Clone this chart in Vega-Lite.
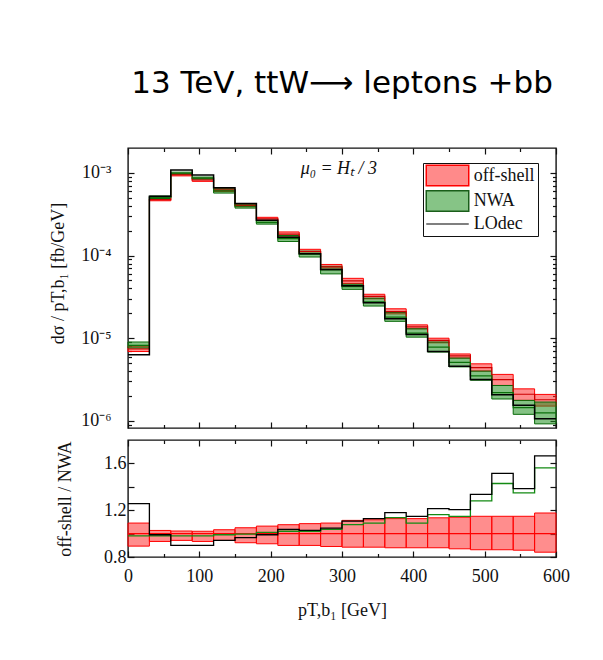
{
  "$schema": "https://vega.github.io/schema/vega-lite/v6.json",
  "background": "white",
  "padding": {"left": 49, "top": 67, "right": 10, "bottom": 10},
  "spacing": 7,
  "config": {
    "view": {"stroke": "#111", "strokeWidth": 1.4},
    "axis": {"domain": false, "grid": false, "labelFont": "Liberation Serif", "titleFont": "Liberation Serif", "labelFontSize": 18, "titleFontSize": 18, "labelColor": "#111", "titleColor": "#111", "tickColor": "#111", "tickWidth": 1.2, "titleFontWeight": "normal", "labelFlush": false, "labelOverlap": false},
    "font": "Liberation Serif"
  },
  "datasets": {
    "main": [
      {"x0": 0, "x1": 30, "os_lo": 6.9e-6, "os_hi": 8.0e-6, "os_c": 7.4e-6, "nw_lo": 7.6e-6, "nw_hi": 9.0e-6, "nw_c": 8.2e-6, "lo": 6.3e-6, "r_lo": 0.893, "r_hi": 1.09, "r_c": 1, "g": 0.98, "k": 1.257},
      {"x0": 30, "x1": 60, "os_lo": 4.6e-4, "os_hi": 4.9e-4, "os_c": 4.75e-4, "nw_lo": 4.9e-4, "nw_hi": 5.25e-4, "nw_c": 5.05e-4, "lo": 5.2e-4, "r_lo": 0.933, "r_hi": 1.027, "r_c": 1, "g": 0.98, "k": 0.99},
      {"x0": 60, "x1": 90, "os_lo": 9.2e-4, "os_hi": 9.8e-4, "os_c": 9.5e-4, "nw_lo": 9.6e-4, "nw_hi": 1.02e-3, "nw_c": 9.9e-4, "lo": 1.08e-3, "r_lo": 0.942, "r_hi": 1.022, "r_c": 1, "g": 0.98, "k": 0.9},
      {"x0": 90, "x1": 120, "os_lo": 7.9e-4, "os_hi": 8.6e-4, "os_c": 8.2e-4, "nw_lo": 8.4e-4, "nw_hi": 8.9e-4, "nw_c": 8.65e-4, "lo": 9.45e-4, "r_lo": 0.933, "r_hi": 1.02, "r_c": 1, "g": 0.98, "k": 0.9},
      {"x0": 120, "x1": 150, "os_lo": 5.95e-4, "os_hi": 6.45e-4, "os_c": 6.2e-4, "nw_lo": 5.7e-4, "nw_hi": 6.4e-4, "nw_c": 6.05e-4, "lo": 6.6e-4, "r_lo": 0.942, "r_hi": 1.033, "r_c": 1, "g": 0.99, "k": 0.942},
      {"x0": 150, "x1": 180, "os_lo": 3.9e-4, "os_hi": 4.2e-4, "os_c": 4.05e-4, "nw_lo": 3.75e-4, "nw_hi": 4.2e-4, "nw_c": 3.95e-4, "lo": 4.25e-4, "r_lo": 0.922, "r_hi": 1.05, "r_c": 1, "g": 0.995, "k": 0.965},
      {"x0": 180, "x1": 210, "os_lo": 2.65e-4, "os_hi": 2.9e-4, "os_c": 2.77e-4, "nw_lo": 2.4e-4, "nw_hi": 2.65e-4, "nw_c": 2.52e-4, "lo": 2.68e-4, "r_lo": 0.913, "r_hi": 1.064, "r_c": 1, "g": 1.01, "k": 0.99},
      {"x0": 210, "x1": 240, "os_lo": 1.72e-4, "os_hi": 1.93e-4, "os_c": 1.82e-4, "nw_lo": 1.48e-4, "nw_hi": 1.75e-4, "nw_c": 1.6e-4, "lo": 1.67e-4, "r_lo": 0.899, "r_hi": 1.076, "r_c": 1, "g": 1.02, "k": 1.036},
      {"x0": 240, "x1": 270, "os_lo": 1.05e-4, "os_hi": 1.19e-4, "os_c": 1.12e-4, "nw_lo": 9.6e-5, "nw_hi": 1.13e-4, "nw_c": 1.04e-4, "lo": 1.05e-4, "r_lo": 0.899, "r_hi": 1.085, "r_c": 1, "g": 1.02, "k": 1.027},
      {"x0": 270, "x1": 300, "os_lo": 6.8e-5, "os_hi": 7.8e-5, "os_c": 7.3e-5, "nw_lo": 6.0e-5, "nw_hi": 7.4e-5, "nw_c": 6.7e-5, "lo": 6.8e-5, "r_lo": 0.89, "r_hi": 1.09, "r_c": 1, "g": 1.036, "k": 1.047},
      {"x0": 300, "x1": 330, "os_lo": 4.6e-5, "os_hi": 5.3e-5, "os_c": 4.95e-5, "nw_lo": 3.9e-5, "nw_hi": 4.5e-5, "nw_c": 4.2e-5, "lo": 4.3e-5, "r_lo": 0.884, "r_hi": 1.113, "r_c": 1, "g": 1.076, "k": 1.107},
      {"x0": 330, "x1": 360, "os_lo": 3.0e-5, "os_hi": 3.4e-5, "os_c": 3.2e-5, "nw_lo": 2.45e-5, "nw_hi": 3.05e-5, "nw_c": 2.75e-5, "lo": 2.68e-5, "r_lo": 0.884, "r_hi": 1.118, "r_c": 1, "g": 1.09, "k": 1.128},
      {"x0": 360, "x1": 390, "os_lo": 1.97e-5, "os_hi": 2.27e-5, "os_c": 2.1e-5, "nw_lo": 1.6e-5, "nw_hi": 2.05e-5, "nw_c": 1.8e-5, "lo": 1.72e-5, "r_lo": 0.879, "r_hi": 1.128, "r_c": 1, "g": 1.136, "k": 1.18},
      {"x0": 390, "x1": 420, "os_lo": 1.3e-5, "os_hi": 1.45e-5, "os_c": 1.37e-5, "nw_lo": 1.03e-5, "nw_hi": 1.3e-5, "nw_c": 1.15e-5, "lo": 1.11e-5, "r_lo": 0.879, "r_hi": 1.128, "r_c": 1, "g": 1.09, "k": 1.148},
      {"x0": 420, "x1": 450, "os_lo": 8.8e-6, "os_hi": 1.0e-5, "os_c": 9.4e-6, "nw_lo": 6.8e-6, "nw_hi": 9.0e-6, "nw_c": 7.8e-6, "lo": 6.9e-6, "r_lo": 0.879, "r_hi": 1.135, "r_c": 1, "g": 1.162, "k": 1.214},
      {"x0": 450, "x1": 480, "os_lo": 5.75e-6, "os_hi": 6.45e-6, "os_c": 6.1e-6, "nw_lo": 4.5e-6, "nw_hi": 5.75e-6, "nw_c": 5.1e-6, "lo": 4.57e-6, "r_lo": 0.87, "r_hi": 1.14, "r_c": 1, "g": 1.148, "k": 1.205},
      {"x0": 480, "x1": 510, "os_lo": 4.0e-6, "os_hi": 4.9e-6, "os_c": 4.4e-6, "nw_lo": 3.1e-6, "nw_hi": 4.0e-6, "nw_c": 3.5e-6, "lo": 3.16e-6, "r_lo": 0.862, "r_hi": 1.148, "r_c": 1, "g": 1.279, "k": 1.336},
      {"x0": 510, "x1": 540, "os_lo": 2.68e-6, "os_hi": 3.65e-6, "os_c": 3.15e-6, "nw_lo": 1.84e-6, "nw_hi": 2.68e-6, "nw_c": 2.2e-6, "lo": 2.07e-6, "r_lo": 0.862, "r_hi": 1.148, "r_c": 1, "g": 1.428, "k": 1.514},
      {"x0": 540, "x1": 570, "os_lo": 1.77e-6, "os_hi": 2.44e-6, "os_c": 2.1e-6, "nw_lo": 1.2e-6, "nw_hi": 1.77e-6, "nw_c": 1.45e-6, "lo": 1.55e-6, "r_lo": 0.858, "r_hi": 1.148, "r_c": 1, "g": 1.348, "k": 1.385},
      {"x0": 570, "x1": 600, "os_lo": 1.51e-6, "os_hi": 2.09e-6, "os_c": 1.8e-6, "nw_lo": 0.92e-6, "nw_hi": 1.69e-6, "nw_c": 1.25e-6, "lo": 1.06e-6, "r_lo": 0.841, "r_hi": 1.176, "r_c": 1, "g": 1.562, "k": 1.665},
      {"x0": 600, "os_c": 1.8e-6, "nw_c": 1.25e-6, "lo": 1.06e-6, "r_c": 1, "g": 1.562, "k": 1.665}
    ],
    "leg": [{"s": "off-shell"}, {"s": "NWA"}, {"s": "LOdec"}],
    "ann": [{"t": "μ₀ = Hₜ / 3", "x": 242, "y": 0.00096}]
  },
  "vconcat": [
    {
      "width": 428,
      "height": 280,
      "title": {"text": "13 TeV, ttW⟶ leptons +bb", "font": "DejaVu Sans", "fontSize": 31, "fontWeight": "normal", "color": "#000", "anchor": "middle", "frame": "group", "offset": 23, "baseline": "alphabetic"},
      "data": {"name": "main"},
      "resolve": {"axis": {"x": "independent", "y": "independent"}},
      "layer": [
        {
          "mark": {"type": "rect", "fill": "#ff3030", "fillOpacity": 0.55, "stroke": "#ff0000", "strokeWidth": 1},
          "encoding": {
            "x": {"field": "x0", "type": "quantitative", "scale": {"domain": [0, 600], "nice": false, "zero": false},
                  "axis": {"orient": "bottom", "values": [0, 100, 200, 300, 400, 500, 600], "tickSize": -6, "labels": false, "title": null}},
            "x2": {"field": "x1"},
            "y": {"field": "os_lo", "type": "quantitative", "scale": {"type": "log", "domain": [8.2e-7, 2e-3], "nice": false},
                  "axis": {"orient": "left", "values": [1e-6, 1e-5, 1e-4, 1e-3], "tickSize": -6, "labelPadding": 23,
                           "labelExpr": "datum.value > 5e-4 ? '10⁻³' : datum.value > 5e-5 ? '10⁻⁴' : datum.value > 5e-6 ? '10⁻⁵' : '10⁻⁶'",
                           "title": "dσ / pT,b₁ [fb/GeV]", "titlePadding": 13, "titleY": 125}},
            "y2": {"field": "os_hi"}
          }
        },
        {
          "mark": {"type": "rect", "fill": "#1f8f1f", "fillOpacity": 0.55, "stroke": "#0a6a0a", "strokeWidth": 1},
          "encoding": {
            "x": {"field": "x0", "type": "quantitative",
                  "axis": {"orient": "bottom", "values": [50, 150, 250, 350, 450, 550], "tickSize": -3.5, "labels": false, "title": null}},
            "x2": {"field": "x1"},
            "y": {"field": "nw_lo", "type": "quantitative",
                  "axis": {"orient": "left", "values": [9e-7, 2e-6, 3e-6, 4e-6, 5e-6, 6e-6, 7e-6, 8e-6, 9e-6, 2e-5, 3e-5, 4e-5, 5e-5, 6e-5, 7e-5, 8e-5, 9e-5, 2e-4, 3e-4, 4e-4, 5e-4, 6e-4, 7e-4, 8e-4, 9e-4], "tickSize": -3.5, "labels": false, "title": null}},
            "y2": {"field": "nw_hi"}
          }
        },
        {
          "mark": {"type": "line", "interpolate": "step-after", "color": "#cc0000", "strokeWidth": 1.2},
          "encoding": {
            "x": {"field": "x0", "type": "quantitative",
                  "axis": {"orient": "top", "values": [0, 100, 200, 300, 400, 500, 600], "tickSize": -6, "labels": false, "title": null}},
            "y": {"field": "os_c", "type": "quantitative",
                  "axis": {"orient": "right", "values": [1e-6, 1e-5, 1e-4, 1e-3], "tickSize": -6, "labels": false, "title": null}}
          }
        },
        {
          "mark": {"type": "line", "interpolate": "step-after", "color": "#0b700b", "strokeWidth": 1.2},
          "encoding": {
            "x": {"field": "x0", "type": "quantitative",
                  "axis": {"orient": "top", "values": [50, 150, 250, 350, 450, 550], "tickSize": -3.5, "labels": false, "title": null}},
            "y": {"field": "nw_c", "type": "quantitative",
                  "axis": {"orient": "right", "values": [9e-7, 2e-6, 3e-6, 4e-6, 5e-6, 6e-6, 7e-6, 8e-6, 9e-6, 2e-5, 3e-5, 4e-5, 5e-5, 6e-5, 7e-5, 8e-5, 9e-5, 2e-4, 3e-4, 4e-4, 5e-4, 6e-4, 7e-4, 8e-4, 9e-4], "tickSize": -3.5, "labels": false, "title": null}}
          }
        },
        {
          "mark": {"type": "line", "interpolate": "step-after", "color": "#000000", "strokeWidth": 1.5},
          "encoding": {
            "x": {"field": "x0", "type": "quantitative", "axis": null},
            "y": {"field": "lo", "type": "quantitative", "axis": null}
          }
        },
        {
          "data": {"name": "ann"},
          "mark": {"type": "text", "align": "left", "baseline": "alphabetic", "font": "Liberation Serif", "fontSize": 18, "fontStyle": "italic", "color": "#111"},
          "encoding": {
            "x": {"field": "x", "type": "quantitative", "axis": null},
            "y": {"field": "y", "type": "quantitative", "axis": null},
            "text": {"field": "t"}
          }
        },
        {
          "data": {"name": "leg"},
          "mark": {"type": "point", "filled": true, "opacity": 0},
          "encoding": {
            "fill": {"field": "s", "type": "nominal",
                     "scale": {"domain": ["off-shell", "NWA", "LOdec"], "range": ["#ff8a8a", "#86c486", "transparent"]},
                     "legend": {"orient": "none", "legendX": 295, "legendY": 15, "title": null, "padding": 3, "strokeColor": "#111", "labelFont": "Liberation Serif", "labelFontSize": 18, "labelColor": "#111", "symbolSize": 289, "symbolOffset": -9.25, "labelOffset": 38, "rowPadding": -1.5, "symbolStrokeWidth": 1.5, "symbolOpacity": 1}},
            "stroke": {"field": "s", "type": "nominal",
                       "scale": {"domain": ["off-shell", "NWA", "LOdec"], "range": ["#ff0000", "#1a5e1a", "#555555"]},
                       "legend": {"orient": "none", "legendX": 295, "legendY": 15, "title": null, "padding": 3, "strokeColor": "#111", "labelFont": "Liberation Serif", "labelFontSize": 18, "labelColor": "#111", "symbolSize": 289, "symbolOffset": -9.25, "labelOffset": 38, "rowPadding": -1.5, "symbolStrokeWidth": 1.5, "symbolOpacity": 1}},
            "shape": {"field": "s", "type": "nominal",
                      "scale": {"domain": ["off-shell", "NWA", "LOdec"], "range": ["M0,-1.2H5V1.2H0Z", "M0,-1.2H5V1.2H0Z", "M0,0H5"]},
                      "legend": {"orient": "none", "legendX": 295, "legendY": 15, "title": null, "padding": 3, "strokeColor": "#111", "labelFont": "Liberation Serif", "labelFontSize": 18, "labelColor": "#111", "symbolSize": 289, "symbolOffset": -9.25, "labelOffset": 38, "rowPadding": -1.5, "symbolStrokeWidth": 1.5, "symbolOpacity": 1}}
          }
        }
      ]
    },
    {
      "width": 428,
      "height": 117,
      "data": {"name": "main"},
      "resolve": {"axis": {"x": "independent", "y": "independent"}},
      "layer": [
        {
          "mark": {"type": "rect", "fill": "#ff3030", "fillOpacity": 0.55, "stroke": "#ff0000", "strokeWidth": 1},
          "encoding": {
            "x": {"field": "x0", "type": "quantitative", "scale": {"domain": [0, 600], "nice": false, "zero": false},
                  "axis": {"orient": "bottom", "values": [0, 100, 200, 300, 400, 500, 600], "tickSize": -6, "labelPadding": 16, "title": "pT,b₁ [GeV]", "titlePadding": 16}},
            "x2": {"field": "x1"},
            "y": {"field": "r_lo", "type": "quantitative", "scale": {"domain": [0.8, 1.8], "nice": false, "zero": false},
                  "axis": {"orient": "left", "values": [0.8, 1.0, 1.2, 1.4, 1.6], "tickSize": -6, "labelPadding": 8,
                           "labelExpr": "abs(datum.value - 1.0) < 0.01 || abs(datum.value - 1.4) < 0.01 ? '' : format(datum.value, '.1f')",
                           "title": "off-shell / NWA", "titlePadding": 29}},
            "y2": {"field": "r_hi"}
          }
        },
        {
          "mark": {"type": "line", "interpolate": "step-after", "color": "#ff0000", "strokeWidth": 1.2},
          "encoding": {
            "x": {"field": "x0", "type": "quantitative",
                  "axis": {"orient": "bottom", "values": [50, 150, 250, 350, 450, 550], "tickSize": -3.5, "labels": false, "title": null}},
            "y": {"field": "r_c", "type": "quantitative",
                  "axis": {"orient": "right", "values": [0.8, 1.0, 1.2, 1.4, 1.6], "tickSize": -6, "labels": false, "title": null}}
          }
        },
        {
          "mark": {"type": "line", "interpolate": "step-after", "color": "#138a13", "strokeWidth": 1.3},
          "encoding": {
            "x": {"field": "x0", "type": "quantitative",
                  "axis": {"orient": "top", "values": [0, 100, 200, 300, 400, 500, 600], "tickSize": -6, "labels": false, "title": null}},
            "y": {"field": "g", "type": "quantitative", "axis": null}
          }
        },
        {
          "mark": {"type": "line", "interpolate": "step-after", "color": "#000000", "strokeWidth": 1.3},
          "encoding": {
            "x": {"field": "x0", "type": "quantitative",
                  "axis": {"orient": "top", "values": [50, 150, 250, 350, 450, 550], "tickSize": -3.5, "labels": false, "title": null}},
            "y": {"field": "k", "type": "quantitative", "axis": null}
          }
        }
      ]
    }
  ]
}
